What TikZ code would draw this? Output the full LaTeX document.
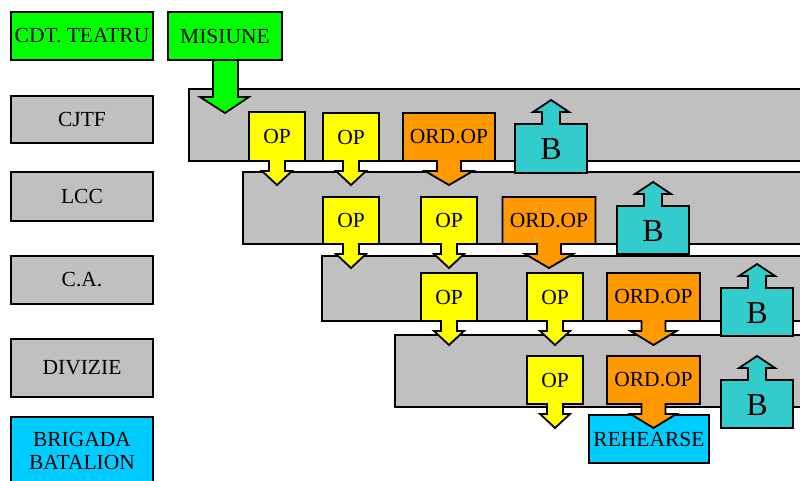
\documentclass[tikz,border=0pt]{standalone}
\usepackage{fontspec}
\setmainfont{Liberation Serif}
\definecolor{cgreen}{HTML}{00FF00}
\definecolor{cgray}{HTML}{C0C0C0}
\definecolor{cyellow}{HTML}{FFFF00}
\definecolor{corange}{HTML}{FF9900}
\definecolor{cteal}{HTML}{33CCCC}
\definecolor{cblue}{HTML}{00CCFF}
\tikzset{
  blk/.style={draw=black,line width=1.8pt,line join=miter},
  lbl/.style={font=\fontsize{21.5}{23}\selectfont,inner sep=0pt,align=center},
  bigl/.style={font=\fontsize{32}{36}\selectfont,inner sep=0pt},
}
% #1 name, #2 cx, #3 ytop, #4 ybot, #5 body width, #6 shaft width, #7 head width, #8 fill, #9 text
\newcommand\DownCall[9]{%
  \draw[blk,fill=#8] ({#2-#5/2},#3) -- ({#2+#5/2},#3) -- ({#2+#5/2},#4)
    -- ({#2+#6/2},#4) -- ({#2+#6/2},{#4+10}) -- ({#2+#7/2},{#4+10})
    -- (#2,{#4+24}) -- ({#2-#7/2},{#4+10}) -- ({#2-#6/2},{#4+10})
    -- ({#2-#6/2},#4) -- ({#2-#5/2},#4) -- cycle;
  \node[lbl] (#1) at (#2,{(#3+#4)/2}) {#9};}
% #1 name, #2 cx, #3 ytop, #4 ybot
\newcommand\UpCall[4]{%
  \draw[blk,fill=cteal] ({#2-36},#4) -- ({#2+36},#4) -- ({#2+36},#3)
    -- ({#2+9},#3) -- ({#2+9},{#3-12}) -- ({#2+18},{#3-12})
    -- (#2,{#3-24}) -- ({#2-18},{#3-12}) -- ({#2-9},{#3-12})
    -- ({#2-9},#3) -- ({#2-36},#3) -- cycle;
  \node[bigl] (#1) at (#2,{(#3+#4)/2+1}) {B};}
\begin{document}
\begin{tikzpicture}[x=1pt,y=-1pt]
\useasboundingbox (0,0) rectangle (800,481);
\clip (0,0) rectangle (800,481);
% bands
\draw[blk,fill=cgray] (189,89) rectangle (815,161);
\draw[blk,fill=cgray] (243,172) rectangle (815,244);
\draw[blk,fill=cgray] (322,256) rectangle (815,321);
\draw[blk,fill=cgray] (395,335) rectangle (815,407);
% left column
\node[blk,fill=cgreen,lbl,minimum width=142pt,minimum height=48pt,inner sep=0pt] (cdt) at (82,36) {CDT. TEATRU};
\node[blk,fill=cgray,lbl,minimum width=142pt,minimum height=47pt] (cjtf) at (82,119.5) {CJTF};
\node[blk,fill=cgray,lbl,minimum width=142pt,minimum height=49pt] (lcc) at (82,196.5) {LCC};
\node[blk,fill=cgray,lbl,minimum width=142pt,minimum height=48pt] (ca) at (82,280) {C.A.};
\node[blk,fill=cgray,lbl,minimum width=142pt,minimum height=58pt] (div) at (82,368) {DIVIZIE};
\node[blk,fill=cblue,lbl,minimum width=142pt,minimum height=80pt,anchor=north] (brig) at (82,416) {};
\node[lbl] (brigt) at (82,451) {BRIGADA\\BATALION};
% mission arrow
\draw[blk,fill=cgreen] (213,60) -- (238,60) -- (238,97) -- (249,97) -- (225,113) -- (200,97) -- (213,97) -- cycle;
\node[blk,fill=cgreen,lbl,minimum width=114pt,minimum height=48pt] (mis) at (225,36) {MISIUNE};
% band 1
\DownCall{o11}{277}{112}{161}{56}{16}{30}{cyellow}{OP}
\DownCall{o12}{351}{113}{161}{56}{16}{30}{cyellow}{OP}
\DownCall{r1}{449}{113}{161}{92}{24}{48}{corange}{ORD.OP}
\UpCall{b1}{551}{124}{173}
% band 2
\DownCall{o21}{351}{197}{244}{56}{16}{30}{cyellow}{OP}
\DownCall{o22}{449}{197}{244}{56}{16}{30}{cyellow}{OP}
\DownCall{r2}{549}{197}{244}{93}{24}{48}{corange}{ORD.OP}
\UpCall{b2}{653}{206}{254}
% band 3
\DownCall{o31}{449}{273}{321}{56}{16}{30}{cyellow}{OP}
\DownCall{o32}{555}{273}{321}{56}{16}{30}{cyellow}{OP}
\DownCall{r3}{653.5}{273}{321}{93}{24}{46}{corange}{ORD.OP}
\UpCall{b3}{757}{288}{336}
% band 4
\node[blk,fill=cblue,lbl,minimum width=120pt,minimum height=48pt] (reh) at (649,439) {REHEARSE};
\DownCall{o41}{555}{356}{404}{56}{16}{30}{cyellow}{OP}
\DownCall{r4}{653.5}{356}{404}{93}{24}{46}{corange}{ORD.OP}
\UpCall{b4}{757}{380}{428}
\end{tikzpicture}
\end{document}
